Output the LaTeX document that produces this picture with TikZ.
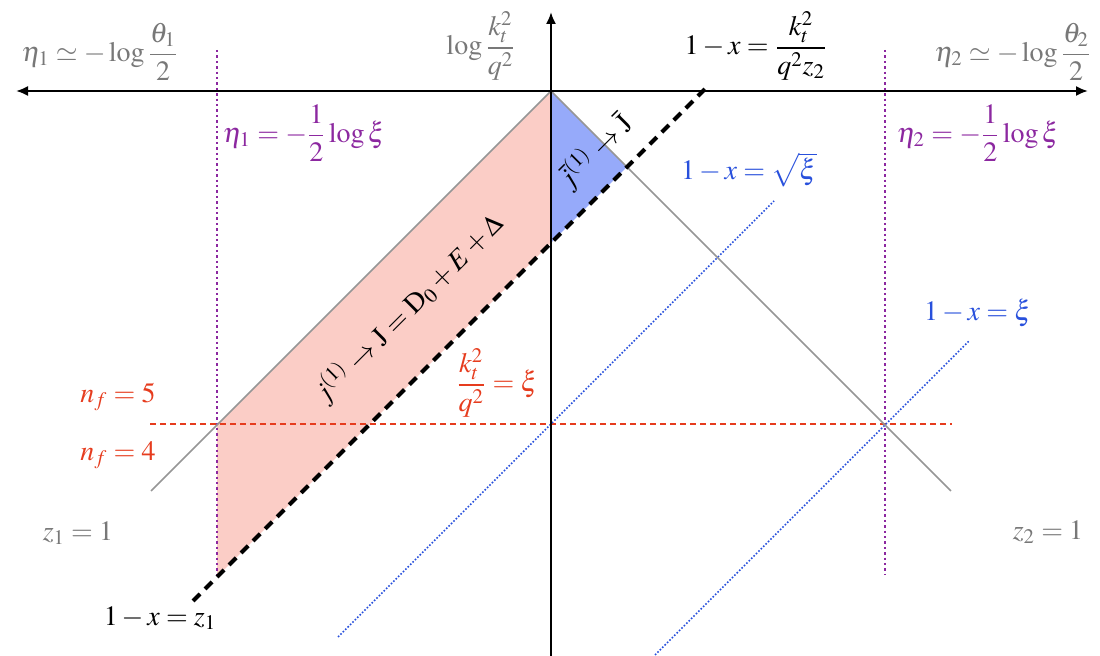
\documentclass[tikz,border=0pt]{standalone}
\usepackage{amsmath}
\usepackage{mathptmx}
\usepackage[no-math]{fontspec}
\setmainfont{Liberation Serif}
\usetikzlibrary{arrows.meta}
\definecolor{txtgray}{RGB}{120,120,120}
\definecolor{lngray}{RGB}{150,150,150}
\definecolor{purp}{RGB}{140,40,160}
\definecolor{redo}{RGB}{230,60,30}
\definecolor{blu}{RGB}{40,80,220}
\definecolor{redfill}{RGB}{251,205,198}
\definecolor{blufill}{RGB}{150,170,250}
\begin{document}
\begin{tikzpicture}[x=0.5pt,y=-0.5pt,
  lab/.style={inner sep=1pt,font=\fontsize{14}{16}\selectfont},
  axis/.style={line width=1pt,-{Latex[length=6pt,width=5pt]}},
  grayln/.style={lngray,line width=0.75pt},
  jetln/.style={line width=2pt,dash pattern=on 5pt off 3.5pt},
  nfln/.style={redo,line width=0.7pt,dash pattern=on 3pt off 2pt},
  etaln/.style={purp,line width=0.8pt,dash pattern=on 1.2pt off 1.5pt},
  xiln/.style={blu,line width=0.8pt,dash pattern=on 0.8pt off 0.9pt}]
\useasboundingbox (0,0) rectangle (1100,656);
% coordinates
\coordinate (O) at (551,91);
\coordinate (L) at (16,91);
\coordinate (R) at (1088,91);
\coordinate (T) at (551,12);
\coordinate (B) at (551,656);
\coordinate (gL) at (151,491);
\coordinate (gR) at (951,491);
\coordinate (dA) at (193,601);
\coordinate (dB) at (705,89);
\coordinate (rA) at (217,425);
\coordinate (rB) at (217,577);
\coordinate (dO) at (551,243);
\coordinate (bA) at (627,167);
\coordinate (pLt) at (217,50);
\coordinate (pLb) at (217,577);
\coordinate (pRt) at (885,50);
\coordinate (pRb) at (885,574);
\coordinate (nA) at (150,424);
\coordinate (nB) at (952,424);
\coordinate (sA) at (338,637);
\coordinate (sB) at (774,201);
\coordinate (xA) at (655,655);
\coordinate (xB) at (969,341);
% fills
\fill[redfill] (O) -- (rA) -- (rB) -- (dO) -- cycle;
\fill[blufill] (O) -- (bA) -- (dO) -- cycle;
% lines
\draw[etaln] (pLt) -- (pLb);
\draw[etaln] (pRt) -- (pRb);
\draw[nfln] (nA) -- (nB);
\draw[xiln] (sA) -- (sB);
\draw[xiln] (xA) -- (xB);
\draw[grayln] (gL) -- (O) -- (gR);
\draw[jetln] (dA) -- (dB);
\draw[axis] (B) -- (T);
\draw[axis,{Latex[length=6pt,width=5pt]}-{Latex[length=6pt,width=5pt]}] (L) -- (R);
% labels
\node[lab,txtgray] (eta1) at (100,52) {$\eta_1 \simeq -\log\dfrac{\theta_1}{2}$};
\node[lab,txtgray] (eta2) at (1013,52) {$\eta_2 \simeq -\log\dfrac{\theta_2}{2}$};
\node[lab,txtgray] (logk) at (481,46) {$\log\dfrac{k_t^2}{q^2}$};
\node[lab] (xz2) at (756,46) {$1-x=\dfrac{k_t^2}{q^2 z_2}$};
\node[lab,purp] (eta1x) at (304,133) {$\eta_1 = -\dfrac{1}{2}\log\xi$};
\node[lab,purp] (eta2x) at (978,133) {$\eta_2 = -\dfrac{1}{2}\log\xi$};
\node[lab,blu] (sqxi) at (749,170) {$1-x=\sqrt{\xi}$};
\node[lab,blu] (xxi) at (978,313) {$1-x=\xi$};
\node[lab,redo] (kxi) at (497,383) {$\dfrac{k_t^2}{q^2}=\xi$};
\node[lab,redo] (nf5) at (118,397) {$n_f=5$};
\node[lab,redo] (nf4) at (118,455) {$n_f=4$};
\node[lab,txtgray] (z1) at (78,533) {$z_1=1$};
\node[lab,txtgray] (z2) at (1048,532) {$z_2=1$};
\node[lab] (xz1) at (160,618) {$1-x=z_1$};
\node[lab,rotate=45] (jet) at (408,308) {$j^{(1)}\to \mathrm{J}=\mathrm{D}_0+E+\Delta$};
\node[lab,rotate=45] (jbar) at (595,151) {$\bar{j}^{(1)}\to \bar{\mathrm{J}}$};
\end{tikzpicture}
\end{document}
